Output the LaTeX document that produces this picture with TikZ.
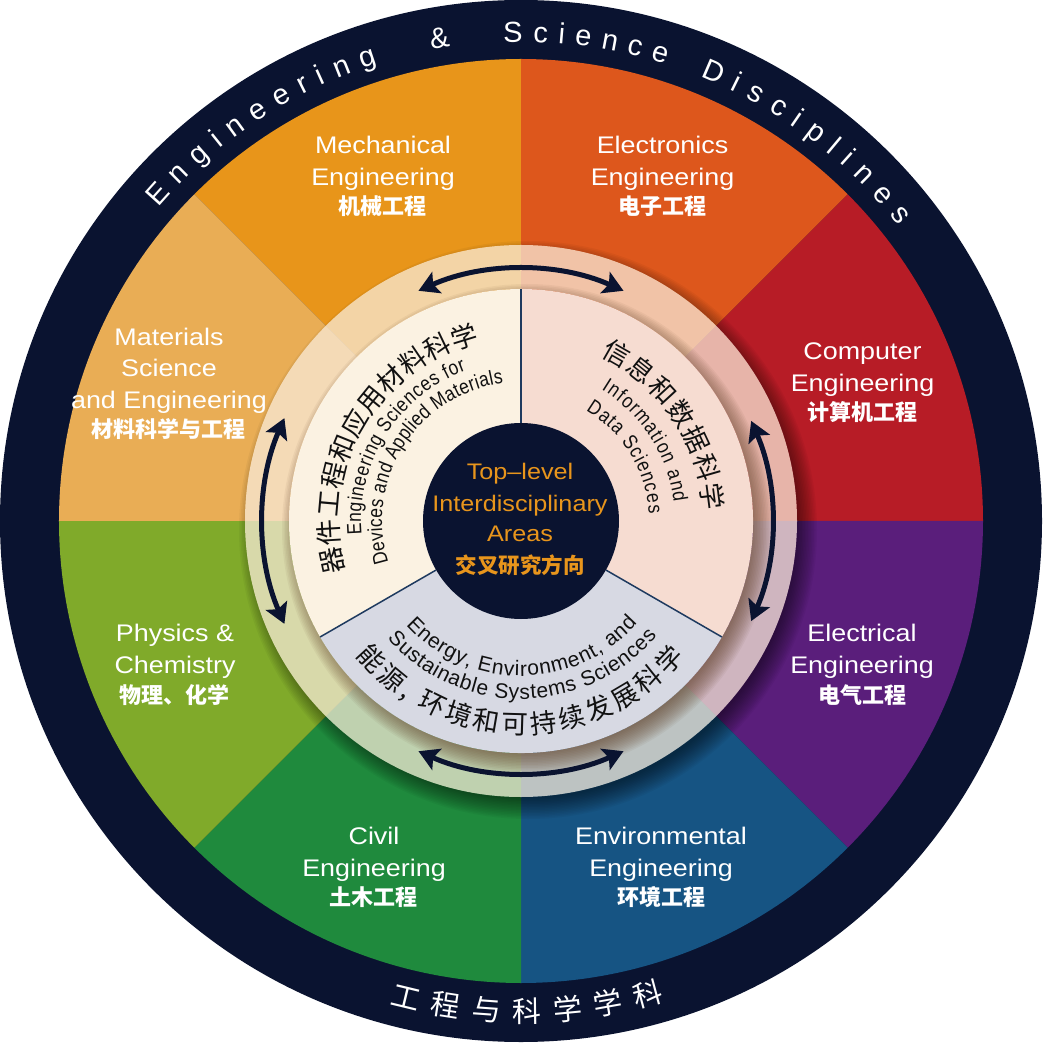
\documentclass[tikz,border=0pt]{standalone}
\usepackage{fontspec}
\setmainfont{Liberation Sans}
\newfontfamily\labfont[FakeStretch=1.12]{Liberation Sans}
\newfontfamily\condfont[FakeStretch=0.85]{Liberation Sans}
\newfontfamily\cjkfont{Noto Sans CJK SC}
\usetikzlibrary{decorations.text,arrows.meta}
\definecolor{navy}{HTML}{0A1330}
\definecolor{cMech}{HTML}{E8951A}
\definecolor{cElec}{HTML}{DD571C}
\definecolor{cComp}{HTML}{B71C26}
\definecolor{cEltr}{HTML}{5A1E7B}
\definecolor{cEnv}{HTML}{165483}
\definecolor{cCivil}{HTML}{1F8A3D}
\definecolor{cPhys}{HTML}{80AA2A}
\definecolor{cMat}{HTML}{E9AD55}
\definecolor{orangeT}{HTML}{E8951C}
\definecolor{secA}{HTML}{FBF2E2}
\definecolor{secB}{HTML}{F6DCD1}
\definecolor{secC}{HTML}{D7D9E3}
\definecolor{ringc}{HTML}{F8EAD8}
\definecolor{shadowc}{HTML}{5E3E26}
\definecolor{divc}{HTML}{1E3A5F}
\definecolor{txt}{HTML}{111111}
\newcommand\myfcjk{\color{txt}\cjkfont\fontsize{26.5}{26.5}\selectfont}
\newcommand\myfeng{\color{txt}\condfont\fontsize{20.5}{20.5}\selectfont}
\newcommand\myfengb{\color{txt}\fontsize{21}{21}\selectfont}
\newcommand\myfring{\color{white}\fontsize{29}{29}\selectfont}
\newcommand\myfringc{\color{white}\cjkfont\fontsize{29}{29}\selectfont}
\newcommand\arctext[5]{\path[decorate,decoration={text along path,text={|#1|#2},text align={fit to path}}] (#4:#3) arc[start angle=#4,end angle=#5,radius=#3];}
\tikzset{
  seclab/.style={text=white,font=\labfont\fontsize{24}{24}\selectfont,anchor=base,inner sep=0pt},
  seccjk/.style={text=white,font=\cjkfont\bfseries\fontsize{22}{22}\selectfont,anchor=base,inner sep=0pt},
  coretxt/.style={text=orangeT,font=\labfont\fontsize{22.5}{22.5}\selectfont,anchor=base,inner sep=0pt},
  corecjk/.style={text=orangeT,font=\cjkfont\bfseries\fontsize{21.5}{21.5}\selectfont,anchor=base,inner sep=0pt},
  ringamp/.style={text=white,font=\fontsize{29}{29}\selectfont,anchor=center,inner sep=0pt},
  dblarrow/.style={draw=navy,line width=5pt,{Stealth[length=20pt,width=23pt,inset=4pt]}-{Stealth[length=20pt,width=23pt,inset=4pt]}},
  divider/.style={draw=divc,line width=1.5pt},
}
\begin{document}
\begin{tikzpicture}[x=1pt,y=1pt]
\useasboundingbox (-521,-522) rectangle (521,521);
\fill[navy] (0,0) circle (521);
% coloured discipline sectors
\foreach \a/\c in {90/cMech,45/cElec,0/cComp,-45/cEltr,-90/cEnv,225/cCivil,180/cPhys,135/cMat}
  \fill[\c] (0,0) -- (\a:462) arc[start angle=\a,delta angle=45,radius=462] -- cycle;
% soft shadow of the ring onto the sectors
\begin{scope}
  \clip (-530,-530) -- (-530,530) -- (530,530) -- (530,-530) -- cycle
        (276,0) arc[start angle=0,end angle=360,radius=276] -- cycle;
  \foreach \i in {0,...,14}
    \fill[black,opacity=0.04] (7,-9) circle ({268+1.5*\i});
\end{scope}
% translucent ring
\fill[ringc,opacity=0.74,even odd rule] (0,0) circle (276) (0,0) circle (232);
% shadow of the inner disc onto the ring
\begin{scope}
  \clip (-530,-530) -- (-530,530) -- (530,530) -- (530,-530) -- cycle
        (232,0) arc[start angle=0,end angle=360,radius=232] -- cycle;
  \foreach \i in {0,...,14}
    \fill[shadowc,opacity=0.06] (6,-8) circle ({224+1.5*\i});
\end{scope}
% inner disc with three areas
\fill[secA] (0,0) -- (90:232) arc[start angle=90,end angle=210,radius=232] -- cycle;
\fill[secB] (0,0) -- (-30:232) arc[start angle=-30,end angle=90,radius=232] -- cycle;
\fill[secC] (0,0) -- (210:232) arc[start angle=210,end angle=330,radius=232] -- cycle;
\coordinate (d1) at (90:232);
\coordinate (d2) at (-30:232);
\coordinate (d3) at (210:232);
\node[circle,fill=navy,minimum size=196pt,inner sep=0pt] (core) at (0,0) {};
\draw[divider] (core.90) -- (d1);
\draw[divider] (core.-30) -- (d2);
\draw[divider] (core.210) -- (d3);
% centre text
\node[coretxt] (c1) at (-1,41) {Top–level};
\node[coretxt] (c2) at (-1,9.3) {Interdisciplinary};
\node[coretxt] (c3) at (-1,-20.7) {Areas};
\node[corecjk] (c4) at (-1,-52.5) {交叉研究方向};
% curved texts of the three areas
\arctext{\myfcjk}{器件工程和应用材料科学}{183}{196}{103}
\arctext{\myfeng}{Engineering Sciences for}{160}{185}{110}
\arctext{\myfeng}{Devices and Applied Materials}{139}{197.5}{97.3}
\arctext{\myfcjk}{信息和数据科学}{183}{64.5}{3.2}
\arctext{\myfeng}{Information and}{154}{58.5}{7}
\arctext{\myfeng}{Data Sciences}{128}{59.6}{3.2}
\arctext{\myfengb}{Energy, Environment, and}{155}{222.1}{318.7}
\arctext{\myfengb}{Sustainable Systems Sciences}{178}{221.3}{319.8}
\arctext{\myfcjk}{能源, 环境和可持续发展科学}{213}{219}{320.3}
% double arrows
\draw[dblarrow] (114:252) arc[start angle=114,end angle=66,radius=252];
\draw[dblarrow] (23.5:251) arc[start angle=23.5,end angle=-23.5,radius=251];
\draw[dblarrow] (246:252) arc[start angle=246,end angle=294,radius=252];
\draw[dblarrow] (156.5:258) arc[start angle=156.5,end angle=203.5,radius=258];
% outer ring texts
\arctext{\myfring}{Engineering}{479}{139.2}{107.4}
\node[ringamp,rotate=9.6] (amp) at (99.6:489.5) {\&};
\arctext{\myfring}{Science}{479}{92.1}{72.4}
\arctext{\myfring}{Disciplines}{479}{68}{38}
\arctext{\myfringc}{工程与科学学科}{501}{254.75}{286.65}
% discipline labels
\node[seclab] (me1) at (-138,367) {Mechanical};
\node[seclab] (me2) at (-138,335.5) {Engineering};
\node[seccjk] (me3) at (-138,306.5) {机械工程};
\node[seclab] (el1) at (141.5,367) {Electronics};
\node[seclab] (el2) at (141.5,335.5) {Engineering};
\node[seccjk] (el3) at (141.5,306.5) {电子工程};
\node[seclab] (co1) at (341.5,161) {Computer};
\node[seclab] (co2) at (341.5,129.5) {Engineering};
\node[seccjk] (co3) at (341.5,100) {计算机工程};
\node[seclab] (et1) at (341,-120.7) {Electrical};
\node[seclab] (et2) at (341,-152.3) {Engineering};
\node[seccjk] (et3) at (341,-182.5) {电气工程};
\node[seclab] (en1) at (140,-323.5) {Environmental};
\node[seclab] (en2) at (140,-355) {Engineering};
\node[seccjk] (en3) at (140,-384.5) {环境工程};
\node[seclab] (ci1) at (-147,-323.5) {Civil};
\node[seclab] (ci2) at (-147,-355) {Engineering};
\node[seccjk] (ci3) at (-147,-384.5) {土木工程};
\node[seclab] (ph1) at (-346,-120.7) {Physics \&};
\node[seclab] (ph2) at (-346,-152.3) {Chemistry};
\node[seccjk] (ph3) at (-346,-182.5) {物理、化学};
\node[seclab] (ma1) at (-352,175.5) {Materials};
\node[seclab] (ma2) at (-352,144) {Science};
\node[seclab] (ma3) at (-352,112.5) {and Engineering};
\node[seccjk] (ma4) at (-352,83) {材料科学与工程};
\end{tikzpicture}
\end{document}
